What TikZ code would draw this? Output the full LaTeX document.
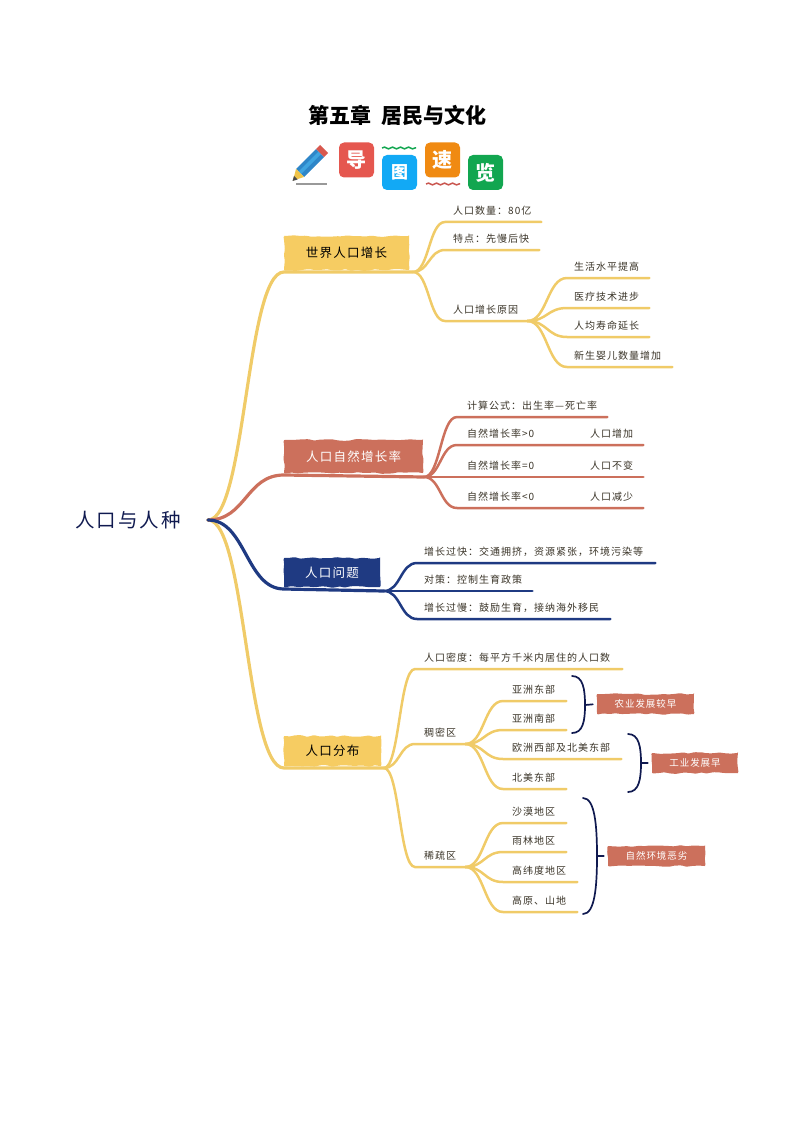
\documentclass[tikz,border=0pt]{standalone}
\usepackage{fontspec}
\setmainfont{Noto Sans CJK SC}
\newfontfamily\leaffont[LetterSpace=10]{Noto Sans CJK SC}
\usetikzlibrary{calc,decorations.pathmorphing}
\definecolor{sunny}{HTML}{F0CB68}
\definecolor{sunnybox}{HTML}{F6CC62}
\definecolor{clay}{HTML}{CC705C}
\definecolor{navy}{HTML}{1F3A82}
\definecolor{ink}{HTML}{101A50}
\definecolor{leafink}{HTML}{3A3428}
\definecolor{daored}{HTML}{E5574F}
\definecolor{tublue}{HTML}{12A9F5}
\definecolor{suorange}{HTML}{F08A12}
\definecolor{langreen}{HTML}{12A650}
\definecolor{wavered}{HTML}{C9564F}
\definecolor{pencilblue}{HTML}{2E86C8}
\definecolor{pencillight}{HTML}{3FA4E0}
\definecolor{pencilwood}{HTML}{F0C44A}
\definecolor{eraser}{HTML}{D8584E}
\tikzset{
    link/.style={to path={.. controls ($(\tikztostart)!0.5!(\tikztotarget |- \tikztostart)$) and ($(\tikztotarget)!0.5!(\tikztostart |- \tikztotarget)$) .. (\tikztotarget)}},
    trunk/.style={line width=3.2pt,line cap=round},
    twig/.style={line width=2.5pt,line cap=round},
    leaf/.style 2 args={anchor=south west,text width=#1,inner xsep=0pt,inner ysep=5pt,text height=8pt,text depth=2pt,align=left,text=leafink,font=\leaffont\fontsize{10pt}{11pt}\selectfont,execute at begin node={\hspace*{#2}}},
    rough/.style={rounded corners=1pt,decorate,decoration={random steps,segment length=6pt,amplitude=0.9pt}},
    branch/.style 2 args={rough,minimum width=#1,minimum height=#2,inner sep=0pt,outer xsep=0pt,outer ysep=2pt,font=\leaffont\fontsize{12.5pt}{14pt}\selectfont},
    note/.style 2 args={rough,fill=clay,text=white,minimum width=#1,minimum height=#2,inner sep=0pt,font=\leaffont\fontsize{9.5pt}{11pt}\selectfont},
    brace/.style={ink,line width=1.7pt,line cap=round},
    badge/.style={rounded corners=5pt,minimum size=35pt,inner sep=0pt,text=white,font=\bfseries\fontsize{20pt}{24pt}\selectfont},
    wave/.style={line width=1.5pt,decorate,decoration={snake,segment length=8pt,amplitude=0.9pt}}
}
\pgfmathsetseed{7}
\begin{document}
\begin{tikzpicture}[x=1pt,y=-1pt]
    \useasboundingbox (0,0) rectangle (794,1123);
    \node (title) at (397,115) {\bfseries\fontsize{21pt}{24pt}\selectfont 第五章\hspace{10pt}居民与文化};

    \fill[gray!80] (296,183.2) rectangle (327,184.8);
    \fill[pencilblue] (296,169) -- (316,149) -- (324,157) -- (304,177) -- cycle;
    \fill[pencillight] (298.5,171.5) -- (318.5,151.5) -- (321,154) -- (301,174) -- cycle;
    \fill[pencilwood] (293,180.5) -- (296,169) -- (304,177) -- cycle;
    \fill[black!70] (292.5,181) -- (294,176) -- (297.5,179.5) -- cycle;
    \fill[eraser] (316,149) -- (320,145) -- (328,153) -- (324,157) -- cycle;
    \node[badge,fill=daored] (dao) at (356.5,160) {导};
    \node[badge,fill=tublue,font=\bfseries\fontsize{17pt}{20pt}\selectfont] (tu) at (399.5,172.5) {图};
    \node[badge,fill=suorange] (su) at (442.5,160) {速};
    \node[badge,fill=langreen] (lan) at (485.5,172.5) {览};
    \coordinate (wave1a) at (382,148);
    \coordinate (wave1b) at (416,148);
    \coordinate (wave2a) at (426,184);
    \coordinate (wave2b) at (460,184);
    \draw[wave,langreen] (wave1a) -- (wave1b);
    \draw[wave,wavered] (wave2a) -- (wave2b);

    \node[text=ink,font=\leaffont\fontsize{19.5pt}{22pt}\selectfont] (root) at (128,520) {人口与人种};
    \coordinate (hub0) at (208,520);

    \node[branch={125pt}{34pt},fill=sunnybox,text=black] (world) at (346.5,253) {世界人口增长};
    \node[branch={139pt}{33pt},fill=clay,text=white] (rate) at (353.5,456.5) {人口自然增长率};
    \node[branch={96pt}{29pt},fill=navy,text=white] (issue) at (332,572.5) {人口问题};
    \node[branch={97pt}{30pt},fill=sunnybox,text=black] (spread) at (332.5,751) {人口分布};
    \coordinate (hub1) at (413,272);
    \coordinate (hub2) at (424,477);
    \coordinate (hub3) at (384,591);
    \coordinate (hub4) at (384,768);
    \draw[trunk,sunny] (hub0) to[link] (world.south west) -- (hub1);
    \draw[trunk,sunny] (hub0) to[link] (spread.south west) -- (hub4);
    \draw[trunk,clay] (hub0) to[link] (rate.south west) -- (hub2);
    \draw[trunk,navy] (hub0) to[link] (issue.south west) -- (hub3);

    \node[leaf={96pt}{8pt}] (count) at (445,222) {人口数量：80亿};
    \node[leaf={94pt}{8pt}] (trait) at (445,250) {特点：先慢后快};
    \node[leaf={82pt}{8pt}] (cause) at (445,321) {人口增长原因};
    \node[leaf={82pt}{7pt}] (life) at (567,278) {生活水平提高};
    \node[leaf={82pt}{7pt}] (med) at (567,308) {医疗技术进步};
    \node[leaf={82pt}{7pt}] (age) at (567,337) {人均寿命延长};
    \node[leaf={105pt}{7pt}] (baby) at (567,367) {新生婴儿数量增加};
    \foreach \n in {count,trait,cause}
        \draw[twig,sunny] (hub1) to[link] (\n.south west) -- (\n.south east);
    \foreach \n in {life,med,age,baby}
        \draw[twig,sunny] (cause.south east) to[link] (\n.south west) -- (\n.south east);

    \node[leaf={150pt}{10pt}] (calc) at (457,417) {计算公式：出生率—死亡率};
    \node[leaf={86pt}{10pt}] (plus) at (457,445) {自然增长率>0};
    \node[leaf={60pt}{7pt}] (more) at (583,445) {人口增加};
    \node[leaf={86pt}{10pt}] (zero) at (457,477) {自然增长率=0};
    \node[leaf={60pt}{7pt}] (same) at (583,477) {人口不变};
    \node[leaf={86pt}{10pt}] (minus) at (457,508) {自然增长率<0};
    \node[leaf={60pt}{7pt}] (less) at (583,508) {人口减少};
    \draw[twig,clay] (hub2) to[link] (calc.south west) -- (calc.south east);
    \draw[twig,clay] (hub2) to[link] (plus.south west) -- (more.south east);
    \draw[twig,clay] (hub2) -- (same.south east);
    \draw[twig,clay] (hub2) to[link] (minus.south west) -- (less.south east);

    \node[leaf={238pt}{7pt}] (fast) at (417,563) {增长过快：交通拥挤，资源紧张，环境污染等};
    \node[leaf={148pt}{40pt}] (plan) at (384,591) {对策：控制生育政策};
    \node[leaf={193pt}{7pt}] (slow) at (417,619) {增长过慢：鼓励生育，接纳海外移民};
    \draw[twig,navy] (hub3) to[link] (fast.south west) -- (fast.south east);
    \draw[twig,navy] (hub3) -- (plan.south east);
    \draw[twig,navy] (hub3) to[link] (slow.south west) -- (slow.south east);

    \node[leaf={207pt}{9pt}] (density) at (415,669) {人口密度：每平方千米内居住的人口数};
    \node[leaf={50pt}{9pt}] (dense) at (415,744) {稠密区};
    \node[leaf={50pt}{9pt}] (sparse) at (415,867) {稀疏区};
    \foreach \n in {density,dense,sparse}
        \draw[twig,sunny] (hub4) to[link] (\n.south west) -- (\n.south east);

    \node[leaf={63pt}{9pt}] (east) at (503,701) {亚洲东部};
    \node[leaf={63pt}{9pt}] (south) at (503,730) {亚洲南部};
    \node[leaf={118pt}{9pt}] (west) at (503,759) {欧洲西部及北美东部};
    \node[leaf={63pt}{9pt}] (north) at (503,789) {北美东部};
    \foreach \n in {east,south,west,north}
        \draw[twig,sunny] (dense.south east) to[link] (\n.south west) -- (\n.south east);

    \node[leaf={63pt}{9pt}] (desert) at (503,823) {沙漠地区};
    \node[leaf={63pt}{9pt}] (forest) at (503,852) {雨林地区};
    \node[leaf={74pt}{9pt}] (polar) at (503,882) {高纬度地区};
    \node[leaf={74pt}{9pt}] (hill) at (503,912) {高原、山地};
    \foreach \n in {desert,forest,polar,hill}
        \draw[twig,sunny] (sparse.south east) to[link] (\n.south west) -- (\n.south east);

    \node[note={97pt}{20pt}] (farm) at (645.5,704) {农业发展较早};
    \node[note={86pt}{20pt}] (works) at (695,763) {工业发展早};
    \node[note={97pt}{20pt}] (harsh) at (656.5,856) {自然环境恶劣};

    \coordinate (brace1a) at (572,676);
    \coordinate (brace1m) at (585,705);
    \coordinate (brace1b) at (572,733);
    \coordinate (brace2a) at (628,734);
    \coordinate (brace2m) at (641,763);
    \coordinate (brace2b) at (628,792);
    \coordinate (brace3a) at (583,798);
    \coordinate (brace3m) at (597,856);
    \coordinate (brace3b) at (583,914);
    \draw[brace] (brace1a) .. controls +(11,0) and +(0,-16) .. (brace1m) .. controls +(0,16) and +(11,0) .. (brace1b);
    \draw[brace] (brace2a) .. controls +(11,0) and +(0,-16) .. (brace2m) .. controls +(0,16) and +(11,0) .. (brace2b);
    \draw[brace] (brace3a) .. controls +(12,0) and +(0,-30) .. (brace3m) .. controls +(0,30) and +(12,0) .. (brace3b);
    \draw[brace,shorten >=4pt] (brace1m) -- (farm.west);
    \draw[brace,shorten >=4pt] (brace2m) -- (works.west);
    \draw[brace,shorten >=4pt] (brace3m) -- (harsh.west);
\end{tikzpicture}
\end{document}
